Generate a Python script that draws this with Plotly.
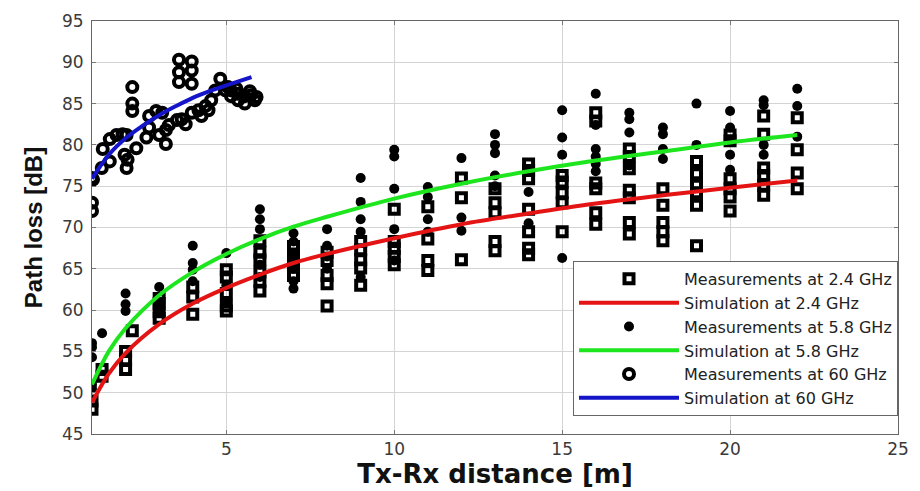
import plotly.graph_objects as go

# ---- Measurements at 2.4 GHz (squares) ----
d24 = [1, 1, 1.3, 1.3,
       2, 2, 2, 2.2,
       3, 3, 3, 3,
       4, 4, 4,
       5, 5, 5, 5, 5,
       6, 6, 6, 6, 6, 6,
       7, 7, 7, 7, 7,
       8, 8, 8, 8, 8,
       9, 9, 9, 9, 9,
       10, 10, 10, 10, 10,
       11, 11, 11, 11,
       12, 12, 12,
       13, 13, 13, 13, 13,
       14, 14, 14, 14, 14, 14, 14,
       15, 15, 15, 15, 15,
       16, 16, 16, 16, 16, 16,
       17, 17, 17, 17, 17, 17, 17,
       18, 18, 18, 18, 18,
       19, 19, 19, 19, 19, 19,
       20, 20, 20, 20, 20, 20,
       21, 21, 21, 21, 21, 21,
       22, 22, 22, 22]
pl24 = [48.0, 49.0, 52.0, 52.8,
        52.8, 54.0, 55.0, 57.5,
        59.0, 59.8, 60.8, 61.4,
        62.8, 61.6, 59.5,
        64.9, 64.0, 62.0, 60.5, 59.9,
        68.4, 67.0, 66.1, 64.6, 63.5, 62.3,
        67.7, 66.8, 66.0, 65.2, 64.2,
        67.0, 66.0, 64.2, 63.2, 60.5,
        68.3, 67.3, 66.1, 65.1, 63.0,
        72.2, 68.3, 67.5, 66.5, 65.5,
        72.5, 68.6, 66.0, 64.8,
        76.0, 73.6, 66.1,
        74.7, 73.0, 71.8, 68.3, 67.2,
        77.7, 76.9, 75.9, 72.2, 69.5, 67.5, 66.7,
        76.3, 75.5, 74.2, 73.0, 69.5,
        83.9, 82.9, 75.4, 74.7, 71.8, 70.4,
        79.5, 78.6, 77.1, 74.5, 73.6, 70.6, 69.2,
        74.7, 72.7, 70.6, 69.5, 68.4,
        78.0, 76.5, 75.1, 74.2, 72.7, 67.8,
        81.2, 80.5, 75.9, 74.7, 73.7, 72.0,
        83.5, 81.3, 77.2, 76.3, 75.1, 73.9,
        83.3, 79.4, 76.6, 74.7]

# ---- Measurements at 5.8 GHz (dots) ----
d58 = [1, 1, 1, 1, 1, 1.3,
       2, 2, 2,
       3, 3, 3,
       4, 4, 4, 4,
       5, 5, 5,
       6, 6, 6, 6, 6,
       7, 7, 7, 7, 7, 7,
       8, 8, 8, 8,
       9, 9, 9, 9, 9,
       10, 10, 10, 10, 10,
       11, 11, 11, 11,
       12, 12, 12,
       13, 13, 13, 13, 13,
       14, 14,
       15, 15, 15, 15,
       16, 16, 16, 16, 16, 16,
       17, 17, 17, 17,
       18, 18, 18, 18,
       19, 19,
       20, 20, 20, 20,
       21, 21, 21, 21,
       22, 22, 22]
pl58 = [50.5, 51.0, 54.3, 55.5, 56.0, 57.2,
        62.0, 60.7, 59.9,
        62.8, 61.0, 60.0,
        67.8, 65.7, 64.9, 63.5,
        66.9, 63.0, 61.0,
        72.2, 71.0, 69.8, 65.5, 64.0,
        69.3, 68.3, 66.5, 65.0, 63.5, 62.6,
        69.8, 67.8, 66.5, 65.0,
        76.0, 73.1, 71.0, 69.5, 64.0,
        79.4, 78.6, 74.7, 69.8, 66.0,
        74.9, 73.7, 71.0, 69.5,
        78.4, 71.2, 69.6,
        81.3, 80.0, 79.0, 76.3, 75.0,
        74.3, 70.5,
        84.2, 80.9, 78.8, 66.3,
        86.2, 82.4, 79.5, 78.6, 77.7, 76.8,
        83.9, 83.1, 81.5, 77.5,
        82.1, 81.3, 79.5, 78.3,
        85.0, 80.0,
        84.1, 82.1, 78.8, 77.0,
        85.4, 84.8, 80.0, 78.8,
        86.8, 84.7, 81.0]

# ---- Measurements at 60 GHz (open circles) ----
d60 = [1.0, 1.0, 1.0, 1.03, 1.29, 1.53, 1.32, 1.53, 1.73, 1.91, 2.03, 1.97, 2.06, 2.03,
       2.2, 2.2, 2.2, 2.32, 2.62, 2.7, 2.7, 2.91, 3.09, 3.2, 3.0, 3.2, 3.29, 3.53,
       3.59, 3.97, 3.59, 3.97, 3.59, 3.97, 3.67, 3.79, 3.97, 4.17, 4.38, 4.26, 4.47,
       4.55, 4.67, 4.82, 4.97, 5.14, 5.35, 5.55, 5.73, 5.85, 5.55, 5.35, 5.14, 5.05,
       5.9, 5.7, 5.3]
pl60 = [72.0, 73.0, 76.0, 75.8, 77.2, 78.0, 79.5, 80.7, 81.2, 81.3, 81.2, 78.8, 78.2, 77.2,
        87.0, 85.0, 84.1, 79.6, 80.9, 82.1, 83.5, 84.1, 83.9, 80.1, 81.2, 81.8, 82.4, 83.0,
        90.3, 90.1, 88.8, 89.0, 87.6, 87.4, 83.1, 82.5, 83.9, 84.2, 84.7, 83.5, 84.2,
        85.4, 86.6, 88.0, 86.6, 86.6, 86.2, 85.9, 86.0, 85.4, 85.0, 85.4, 85.9, 87.0,
        85.8, 86.5, 86.8]

# ---- Simulation curves ----
dsim = [1, 1.5, 2, 3, 4, 5, 6, 7, 8, 10, 12, 14, 16, 18, 20, 22]
sim24 = [48.8, 52.3, 54.8, 58.3, 60.8, 62.7, 64.3, 65.7, 66.8, 68.7, 70.4, 71.7, 72.9, 73.9, 74.8, 75.7]
sim58 = [51.0, 55.0, 57.8, 61.8, 64.6, 66.8, 68.6, 70.1, 71.3, 73.5, 75.3, 76.8, 78.1, 79.2, 80.3, 81.2]
dsim60 = [1, 1.5, 2, 2.5, 3, 3.5, 4, 4.5, 5, 5.75]
sim60 = [75.9, 78.8, 80.8, 82.3, 83.6, 84.7, 85.7, 86.5, 87.2, 88.2]

names = ["Measurements at 2.4 GHz", "Simulation at 2.4 GHz",
         "Measurements at 5.8 GHz", "Simulation at 5.8 GHz",
         "Measurements at 60 GHz", "Simulation at 60 GHz"]

FONT = "DejaVu Sans, Liberation Sans, Arial, sans-serif"

fig = go.Figure()
fig.add_trace(go.Scatter(x=d24, y=pl24, mode="markers", name=names[0], legendrank=1,
                         marker=dict(symbol="square-open", size=9, color="black",
                                     line=dict(width=4, color="black"))))
fig.add_trace(go.Scatter(x=d58, y=pl58, mode="markers", name=names[2], legendrank=3,
                         marker=dict(symbol="circle", size=10, color="black")))
fig.add_trace(go.Scatter(x=d60, y=pl60, mode="markers", name=names[4], legendrank=5,
                         marker=dict(symbol="circle-open", size=10, color="black",
                                     line=dict(width=4, color="black"))))
fig.add_trace(go.Scatter(x=dsim, y=sim24, mode="lines", name=names[1], legendrank=2,
                         line=dict(color="#e41414", width=4, shape="spline")))
fig.add_trace(go.Scatter(x=dsim, y=sim58, mode="lines", name=names[3], legendrank=4,
                         line=dict(color="#1ee61e", width=4, shape="spline")))
fig.add_trace(go.Scatter(x=dsim60, y=sim60, mode="lines", name=names[5], legendrank=6,
                         line=dict(color="#1414c8", width=4, shape="spline")))

axis_common = dict(showgrid=True, gridcolor="#d4d4d4", gridwidth=1,
                   showline=True, linecolor="#666666", linewidth=1, mirror="ticks",
                   ticks="inside", ticklen=4, tickcolor="#777777",
                   zeroline=False,
                   tickfont=dict(family=FONT, size=17, color="#3a3a3a"))

fig.update_xaxes(range=[1, 25], tickvals=[5, 10, 15, 20, 25],
                 title=dict(text="<b>Tx-Rx distance [m]</b>", standoff=2,
                            font=dict(family=FONT, size=26, color="#111111")),
                 **axis_common)
fig.update_yaxes(range=[45, 95], tickvals=[45, 50, 55, 60, 65, 70, 75, 80, 85, 90, 95],
                 ticklabelstandoff=4,
                 title=dict(text="<b>Path loss [dB]</b>", standoff=12,
                            font=dict(family="Liberation Sans, Arial, sans-serif", size=24, color="#111111")),
                 **axis_common)

fig.update_layout(
    width=920, height=491,
    margin=dict(l=92, r=11, t=15, b=49),
    paper_bgcolor="white", plot_bgcolor="white",
    showlegend=True,
    legend=dict(x=1, xanchor="right", y=0.419, yanchor="top",
                bgcolor="white", bordercolor="#666666", borderwidth=1,
                font=dict(family=FONT, size=16, color="#222222"),
                tracegroupgap=0, itemwidth=100),
)

fig.write_html("out.html")
